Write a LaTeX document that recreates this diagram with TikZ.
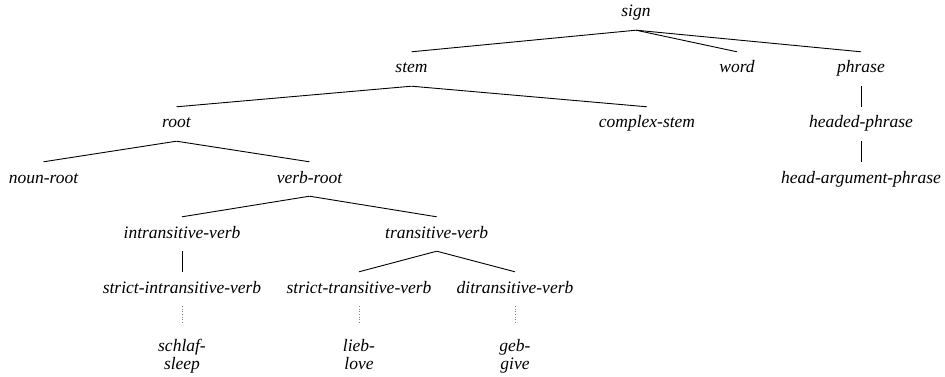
\documentclass[tikz,border=0pt]{standalone}
\usepackage{fontspec}
\setmainfont{Liberation Serif}
\newfontfamily\libser{Liberation Serif}
\begin{document}
\begin{tikzpicture}[x=1pt,y=-1pt,
  tnode/.style={font=\libser\fontsize{17.5}{18}\selectfont\itshape, inner xsep=0pt, inner ysep=9pt, text height=12pt, text depth=4pt},
  edge/.style={line width=0.9pt},
  dots/.style={dotted, gray, line width=0.6pt, shorten >=6pt}]
\useasboundingbox (0,0) rectangle (945,377);
\node[tnode] (sign) at (636,13) {sign};
\node[tnode] (stem) at (411.5,69) {stem};
\node[tnode] (word) at (737,69) {word};
\node[tnode] (phrase) at (861,69) {phrase};
\node[tnode] (root) at (176.5,124) {root};
\node[tnode] (cstem) at (647,124) {complex-stem};
\node[tnode] (hphrase) at (861,124) {headed-phrase};
\node[tnode] (haphrase) at (861,179) {head-argument-phrase};
\node[tnode] (nroot) at (43.5,179) {noun-root};
\node[tnode] (vroot) at (309.5,179) {verb-root};
\node[tnode] (iverb) at (182,234) {intransitive-verb};
\node[tnode] (tverb) at (436.7,234) {transitive-verb};
\node[tnode] (siverb) at (182,289) {strict-intransitive-verb};
\node[tnode] (stverb) at (359,289) {strict-transitive-verb};
\node[tnode] (dverb) at (515,289) {ditransitive-verb};
\node[tnode] (schlaf) at (182,347) {schlaf-};
\node[tnode] (sleep) at (182,365) {sleep};
\node[tnode] (lieb) at (359,347) {lieb-};
\node[tnode] (love) at (359,365) {love};
\node[tnode] (geb) at (515,347) {geb-};
\node[tnode] (give) at (515,365) {give};
\draw[edge] (sign.south) -- (stem.north);
\draw[edge] (sign.south) -- (word.north);
\draw[edge] (sign.south) -- (phrase.north);
\draw[edge] (stem.south) -- (root.north);
\draw[edge] (stem.south) -- (cstem.north);
\draw[edge] (phrase.south) -- (hphrase.north);
\draw[edge] (hphrase.south) -- (haphrase.north);
\draw[edge] (root.south) -- (nroot.north);
\draw[edge] (root.south) -- (vroot.north);
\draw[edge] (vroot.south) -- (iverb.north);
\draw[edge] (vroot.south) -- (tverb.north);
\draw[edge] (iverb.south) -- (siverb.north);
\draw[edge] (tverb.south) -- (stverb.north);
\draw[edge] (tverb.south) -- (dverb.north);
\draw[dots] (siverb.south) -- (schlaf.north);
\draw[dots] (stverb.south) -- (lieb.north);
\draw[dots] (dverb.south) -- (geb.north);
\end{tikzpicture}
\end{document}
